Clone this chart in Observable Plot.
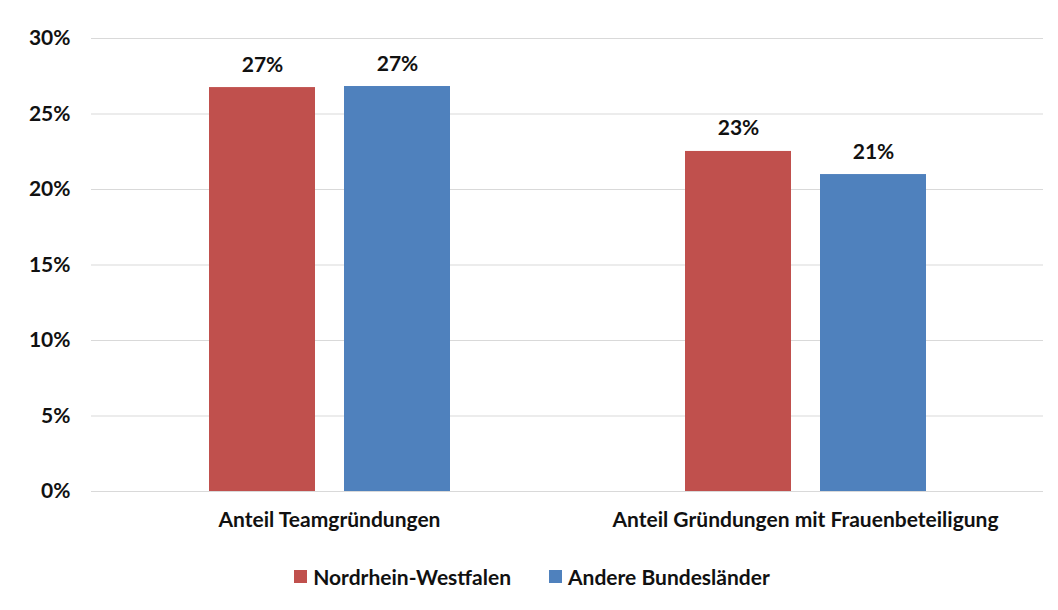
<!DOCTYPE html>
<html>
<head>
<meta charset="utf-8">
<script src="https://cdn.jsdelivr.net/npm/d3@7"></script>
<script src="https://cdn.jsdelivr.net/npm/@observablehq/plot@0.6"></script>
<style>
  html, body { margin: 0; padding: 0; background: #fff; }
  #chart { width: 1058px; font-family: Lato, "Open Sans", sans-serif; font-weight: bold; }
  .legend { display: flex; justify-content: center; align-items: center; gap: 38px; margin-top: 19px; padding-left: 6px; font-size: 21px; color: #111; }
  .legend .item { display: flex; align-items: center; gap: 6px; }
  .legend .sw { width: 13px; height: 13px; display: inline-block; }
</style>
</head>
<body>
<div id="chart"></div>
<script>
const categories = ["Anteil Teamgründungen", "Anteil Gründungen mit Frauenbeteiligung"];
const series = ["Nordrhein-Westfalen", "Andere Bundesländer"];
const nrwValues = [0.2675, 0.2252];
const otherValues = [0.2682, 0.2099];
const seriesColors = ["#C0504D", "#4F81BD"];
const yTicks = [0, 0.05, 0.10, 0.15, 0.20, 0.25, 0.30];

const rows = [];
categories.forEach((c, i) => {
  rows.push({category: c, series: series[0], value: nrwValues[i]});
  rows.push({category: c, series: series[1], value: otherValues[i]});
});

const fmt = v => Math.round(v * 100) + "%";

const plot = Plot.plot({
  width: 1058,
  height: 545,
  marginLeft: 91,
  marginRight: 15,
  marginTop: 38,
  marginBottom: 54,
  style: {fontFamily: "Lato, 'Open Sans', sans-serif", fontSize: "21px", fontWeight: "bold", color: "#111", background: "#fff"},
  fx: {domain: categories, padding: 0, label: null, tickSize: 0, tickPadding: 21, axis: "bottom"},
  x: {domain: series, paddingInner: 29/135, paddingOuter: 0.87, align: 0.5, axis: null},
  y: {domain: [0, 0.30], ticks: yTicks, tickFormat: d3.format(".0%"), label: null, tickSize: 0, tickPadding: 21},
  color: {domain: series, range: seriesColors},
  marks: [
    Plot.gridY(yTicks, {stroke: "#D9D9D9", strokeOpacity: 1, strokeWidth: 1}),
    Plot.barY(rows, {fx: "category", x: "series", y: "value", fill: "series"}),
    Plot.text(rows, {fx: "category", x: "series", y: "value", text: d => fmt(d.value), lineAnchor: "bottom", dy: -16, fontSize: 21, fontWeight: "bold", fill: "#111"})
  ]
});

const chart = document.getElementById("chart");
chart.appendChild(plot);

const legend = document.createElement("div");
legend.className = "legend";
series.forEach((s, i) => {
  const item = document.createElement("div");
  item.className = "item";
  const sw = document.createElement("span");
  sw.className = "sw";
  sw.style.background = seriesColors[i];
  const label = document.createElement("span");
  label.textContent = s;
  item.appendChild(sw);
  item.appendChild(label);
  legend.appendChild(item);
});
chart.appendChild(legend);
</script>
</body>
</html>
